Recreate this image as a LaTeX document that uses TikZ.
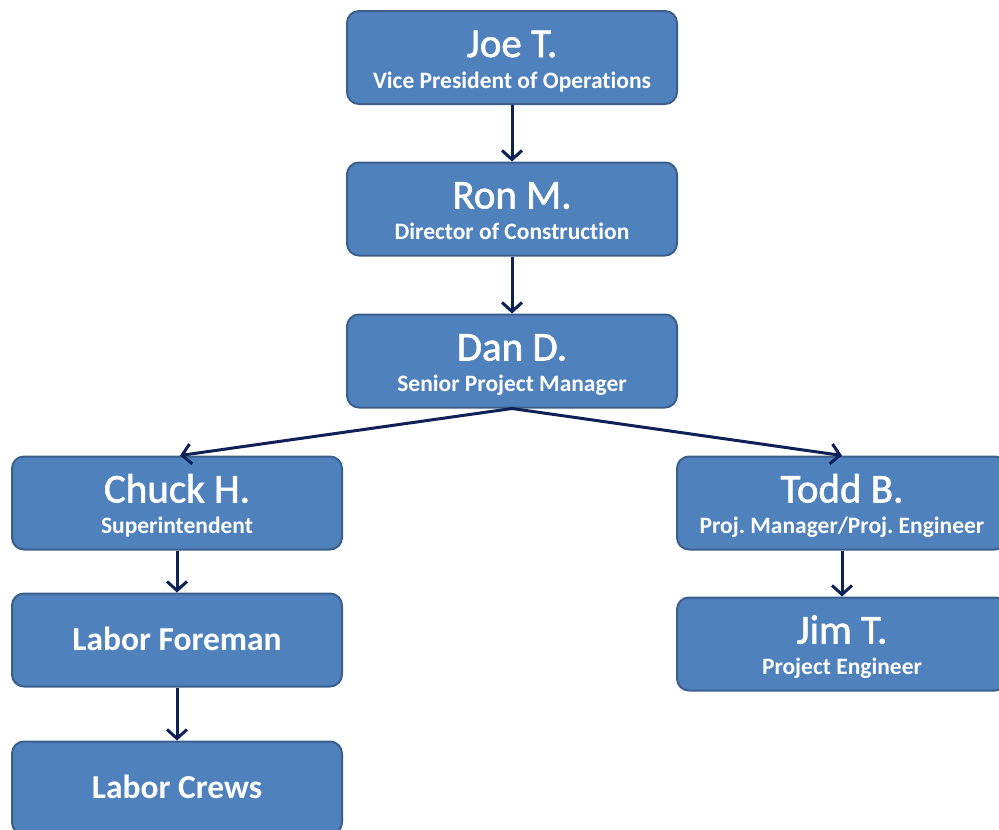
\documentclass[tikz,border=0pt]{standalone}
\usepackage{fontspec}
\setmainfont{Carlito}[Ligatures=NoCommon]
\newfontfamily\titlefont{Carlito}[Ligatures=NoCommon, FakeBold=1.4]
\usetikzlibrary{arrows.meta}
\definecolor{boxfill}{HTML}{4F81BD}
\definecolor{boxline}{HTML}{3B5F8C}
\definecolor{arrowcol}{HTML}{0E2258}
\frenchspacing
\tikzset{
  orgbox/.style={draw=boxline, line width=2pt, fill=boxfill, rounded corners=12pt,
    minimum width=330pt, minimum height=93pt, inner sep=0pt, anchor=north},
  titletext/.style={text=white, font=\fontsize{41}{44}\selectfont\titlefont, anchor=base, inner sep=0pt},
  subtext/.style={text=white, font=\fontsize{23.5}{26}\selectfont\bfseries, anchor=base, inner sep=0pt},
  singletext/.style={text=white, font=\fontsize{33.5}{36}\selectfont\bfseries, inner sep=0pt},
  link/.style={draw=arrowcol, line width=3pt, -{Straight Barb[length=9pt,width=20pt,line width=3pt]}}
}
\newcommand{\orgperson}[5]{%
  \node[orgbox] (#1) at (#2,#3) {};
  \node[titletext] (#1t) at ([yshift=-47pt]#1.north) {#4};
  \node[subtext] (#1s) at ([yshift=-78pt]#1.north) {#5};
}
\begin{document}
\begin{tikzpicture}[x=1pt,y=-1pt]
\useasboundingbox (0,0) rectangle (999,830);
\orgperson{joe}{512}{10}{Joe T.}{Vice President of Operations}
\orgperson{ron}{512}{161.5}{Ron M.}{Director of Construction}
\orgperson{dan}{512}{313.5}{Dan D.}{Senior Project Manager}
\orgperson{chuck}{177}{455.5}{Chuck H.}{Superintendent}
\orgperson{todd}{842}{455.5}{Todd B.}{Proj. Manager/Proj. Engineer}
\orgperson{jim}{842}{596.5}{Jim T.}{Project Engineer}
\node[orgbox] (foreman) at (177,592.5) {};
\node[singletext] (foremant) at ([yshift=1pt]foreman.center) {Labor Foreman};
\node[orgbox] (crews) at (177,740.5) {};
\node[singletext] (crewst) at ([yshift=1pt]crews.center) {Labor Crews};
\draw[link] (joe.south) -- (ron.north);
\draw[link] (ron.south) -- (dan.north);
\draw[link] (dan.south) -- ([xshift=3pt]chuck.north);
\draw[link] (dan.south) -- (todd.north);
\draw[link] (chuck.south) -- (foreman.north);
\draw[link] (foreman.south) -- (crews.north);
\draw[link] (todd.south) -- (jim.north);
\end{tikzpicture}
\end{document}
